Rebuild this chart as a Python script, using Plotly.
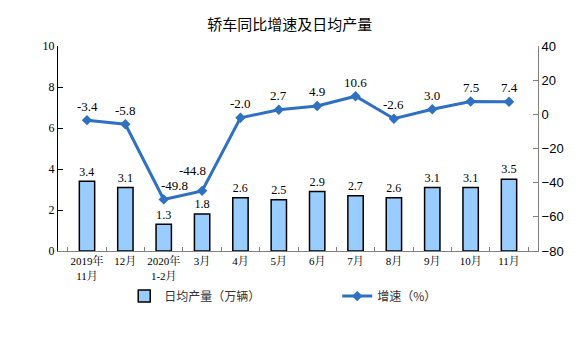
import plotly.graph_objects as go

categories = ["2019年<br>11月", "12月", "2020年<br>1-2月", "3月", "4月", "5月",
              "6月", "7月", "8月", "9月", "10月", "11月"]
daily_output = [3.4, 3.1, 1.3, 1.8, 2.6, 2.5, 2.9, 2.7, 2.6, 3.1, 3.1, 3.5]
growth = [-3.4, -5.8, -49.8, -44.8, -2.0, 2.7, 4.9, 10.6, -2.6, 3.0, 7.5, 7.4]
label_dx = [0, 0, 11, -10, 0, 0, 0, 0, 0, 0, 0, 0]
label_dy = [14, 14, 14, 20, 14, 14, 14, 14, 14, 14, 14, 14]

serif = "Liberation Serif, Times New Roman, Noto Serif CJK SC, Noto Sans CJK SC, serif"
sans_cjk = "Noto Sans CJK SC, sans-serif"

fig = go.Figure()
fig.add_trace(go.Bar(
    x=categories, y=daily_output, name="日均产量（万辆）",
    marker=dict(color="#99CCFF", line=dict(color="black", width=1.5)),
    width=0.4,
    text=[f"{v:.1f}" for v in daily_output], textposition="outside",
    textfont=dict(family=serif, size=13, color="black"),
    cliponaxis=False,
))
fig.add_trace(go.Scatter(
    x=categories, y=growth, name="增速（%）", yaxis="y2",
    mode="lines+markers",
    line=dict(color="#2F70C0", width=3),
    marker=dict(symbol="diamond", size=8, color="#2F70C0"),
    cliponaxis=False,
))
for c, v, dx, dy in zip(categories, growth, label_dx, label_dy):
    fig.add_annotation(x=c, y=v, xref="x", yref="y2", text=f"{v:.1f}",
                       showarrow=False, xshift=dx, yshift=dy,
                       font=dict(family=serif, size=13, color="black"))

fig.update_layout(
    width=576, height=338,
    margin=dict(l=58, r=38, t=46, b=87),
    plot_bgcolor="white", paper_bgcolor="white",
    title=dict(text="轿车同比增速及日均产量", x=0.503, xanchor="center",
               y=0.926, yanchor="middle",
               font=dict(family=sans_cjk, size=15, color="black")),
    showlegend=True,
    legend=dict(orientation="h", x=0.138, xanchor="left",
                y=-0.22, yanchor="middle",
                entrywidth=168, entrywidthmode="pixels",
                font=dict(family=sans_cjk, size=12, color="#333333"),
                traceorder="normal"),
    xaxis=dict(showline=True, linecolor="#808080", linewidth=1,
               ticks="inside", tickson="boundaries", ticklen=4, tickcolor="#808080",
               tickfont=dict(family=serif, size=11, color="black"),
               showgrid=False, tickangle=0),
    yaxis=dict(range=[0, 10], dtick=2, showline=True, linecolor="black", linewidth=1,
               ticks="inside", ticklen=5, tickcolor="black",
               tickfont=dict(family=serif, size=12, color="black"),
               showgrid=False, zeroline=False),
    yaxis2=dict(range=[-80, 40], dtick=20, overlaying="y", side="right",
                showline=True, linecolor="#808080", linewidth=1,
                ticks="inside", ticklen=5, tickcolor="#808080",
                tickfont=dict(family="Liberation Sans, Arial, sans-serif", size=13, color="black"),
                showgrid=False, zeroline=False),
    bargap=0.6,
)

fig.write_html("out.html")
